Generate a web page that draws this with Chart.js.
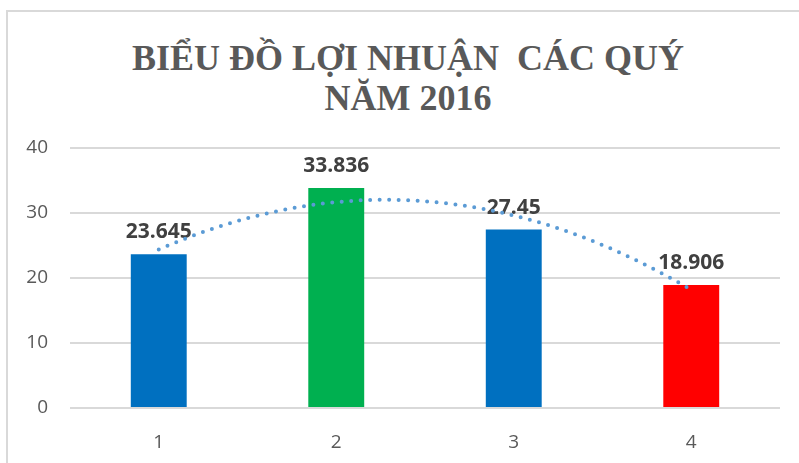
<!DOCTYPE html>
<html>
<head>
<meta charset="utf-8">
<script src="https://cdn.jsdelivr.net/npm/chart.js@4"></script>
<style>
  html, body { margin: 0; padding: 0; background: #fff; overflow: hidden; }
  #wrap { position: relative; width: 799px; height: 463px; }
  #frame { position: absolute; left: 6px; top: 10px; width: 900px; height: 600px;
           border-left: 2px solid #d9d9d9; border-top: 2px solid #d9d9d9; }
  #title { position: absolute; left: 0; top: 38px; width: 816px; text-align: center;
           font: bold 36px/40px "Liberation Serif"; color: #595959; white-space: pre; }
  #box { position: absolute; left: 0; top: 0; width: 799px; height: 463px; }
</style>
</head>
<body>
<div id="wrap">
  <div id="frame"></div>
  <div id="title"></div>
  <div id="box"><canvas id="profitChart"></canvas></div>
</div>
<script>
// quarters and profit per quarter
const quarters = ['1', '2', '3', '4'];
const profits = [23.645, 33.836, 27.45, 18.906];
const barColors = ['#0070C0', '#00B050', '#0070C0', '#FF0000'];
const titleLines = ['BIỂU ĐỒ LỢI NHUẬN  CÁC QUÝ', 'NĂM 2016'];

document.getElementById('title').textContent = titleLines.join('\n');

// value labels above the bars
const barLabels = {
  id: 'barLabels',
  afterDatasetsDraw(chart) {
    const ctx = chart.ctx;
    const meta = chart.getDatasetMeta(0);
    ctx.save();
    ctx.font = 'bold 21px "Open Sans"';
    ctx.fillStyle = '#404040';
    ctx.textAlign = 'center';
    ctx.textBaseline = 'alphabetic';
    meta.data.forEach((bar, i) => {
      ctx.fillText(String(profits[i]), bar.x, bar.y - 16);
    });
    ctx.restore();
  }
};

// 2nd order polynomial trendline (least squares, like Excel)
const trendLine = {
  id: 'trendLine',
  afterDatasetsDraw(chart) {
    const xs = profits.map((v, i) => i + 1);
    const n = xs.length;
    let s = [0, 0, 0, 0, 0], t = [0, 0, 0];
    xs.forEach((x, i) => {
      for (let k = 0; k < 5; k++) s[k] += Math.pow(x, k);
      for (let k = 0; k < 3; k++) t[k] += Math.pow(x, k) * profits[i];
    });
    // solve normal equations
    const m = [
      [s[0], s[1], s[2], t[0]],
      [s[1], s[2], s[3], t[1]],
      [s[2], s[3], s[4], t[2]]
    ];
    for (let c = 0; c < 3; c++) {
      for (let r = c + 1; r < 3; r++) {
        const f = m[r][c] / m[c][c];
        for (let k = c; k < 4; k++) m[r][k] -= f * m[c][k];
      }
    }
    const coef = [0, 0, 0];
    for (let r = 2; r >= 0; r--) {
      let v = m[r][3];
      for (let k = r + 1; k < 3; k++) v -= m[r][k] * coef[k];
      coef[r] = v / m[r][r];
    }
    const xScale = chart.scales.x, yScale = chart.scales.y;
    const ctx = chart.ctx;
    ctx.save();
    ctx.strokeStyle = '#5B9BD5';
    ctx.lineWidth = 4;
    ctx.lineCap = 'round';
    ctx.setLineDash([0, 9.5]);
    ctx.beginPath();
    for (let j = 0; j <= 120; j++) {
      const x = 1 + (n - 1) * j / 120;
      const y = coef[0] + coef[1] * x + coef[2] * x * x;
      const px = xScale.getPixelForValue(x - 1);
      const py = yScale.getPixelForValue(y);
      if (j === 0) ctx.moveTo(px, py); else ctx.lineTo(px, py);
    }
    ctx.stroke();
    ctx.restore();
  }
};

new Chart(document.getElementById('profitChart'), {
  type: 'bar',
  data: {
    labels: quarters,
    datasets: [{
      data: profits,
      backgroundColor: barColors,
      barPercentage: 0.315,
      categoryPercentage: 1
    }]
  },
  options: {
    responsive: true,
    maintainAspectRatio: false,
    animation: false,
    layout: { padding: { left: 0, right: 19, top: 148, bottom: 0 } },
    plugins: {
      legend: { display: false },
      tooltip: { enabled: false },
      title: { display: false }
    },
    scales: {
      x: {
        grid: { display: false },
        border: { display: false },
        ticks: { color: '#595959', font: { family: '"Open Sans"', size: 19 }, padding: 15 },
        afterFit: s => { s.height = 55; }
      },
      y: {
        min: 0,
        max: 40,
        ticks: { stepSize: 10, color: '#595959', font: { family: '"Open Sans"', size: 19 }, padding: 22 },
        grid: { color: '#d9d9d9', lineWidth: 2, drawTicks: false },
        border: { display: false },
        afterFit: s => { s.width = 70; }
      }
    }
  },
  plugins: [barLabels, trendLine]
});
</script>
</body>
</html>
